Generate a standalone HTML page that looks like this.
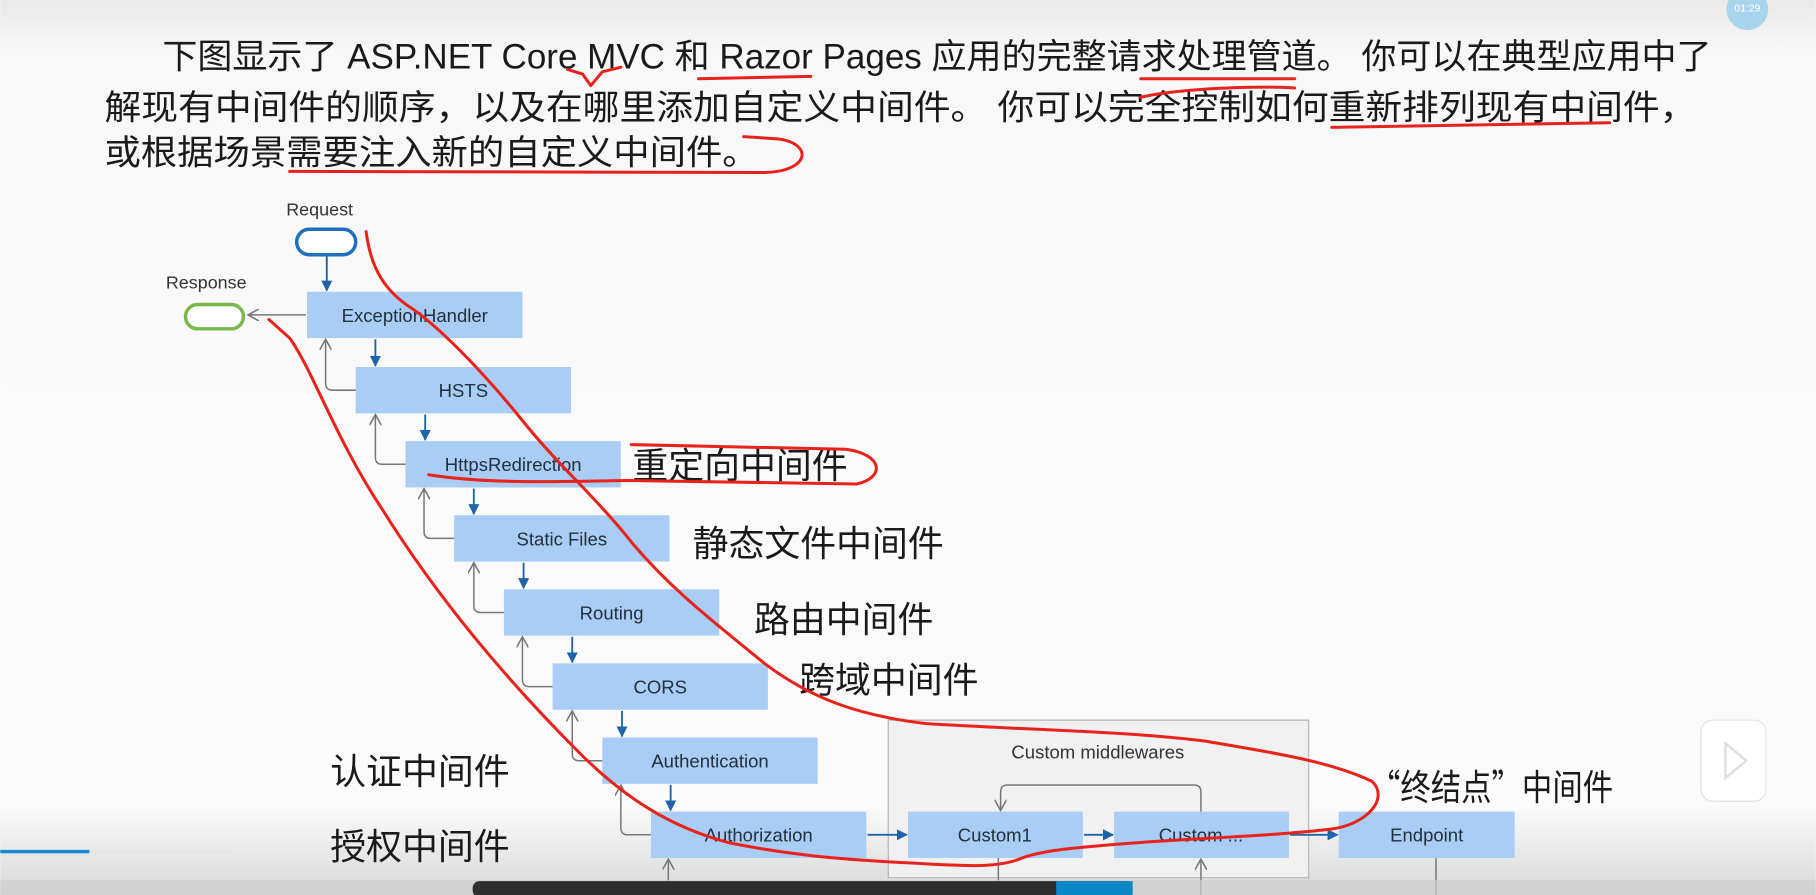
<!DOCTYPE html>
<html><head><meta charset="utf-8"><style>
html,body{margin:0;padding:0;width:1816px;height:895px;overflow:hidden;background:#fafafa}
svg{display:block}
</style></head><body>
<svg width="1816" height="895" viewBox="0 0 1568 773" xmlns="http://www.w3.org/2000/svg">
<defs>
<linearGradient id="bg" x1="0" y1="0" x2="0" y2="1">
<stop offset="0" stop-color="#e9e9e9"/><stop offset="0.06" stop-color="#f8f8f8"/><stop offset="0.9" stop-color="#fbfbfb"/><stop offset="1" stop-color="#d8d8d8"/>
</linearGradient>
<marker id="ab" viewBox="0 0 10 10" refX="9" refY="5" markerWidth="6" markerHeight="6" orient="auto"><path d="M0,0 L10,5 L0,10 z" fill="#1f63a8"/></marker>
<marker id="ag" viewBox="0 0 10 10" refX="9" refY="5" markerWidth="8" markerHeight="8" orient="auto"><path d="M0,0 L9,5 L0,10" fill="none" stroke="#777" stroke-width="1.3"/></marker>
</defs>
<rect width="1568" height="773" fill="url(#bg)"/>
<circle cx="1509" cy="8" r="18" fill="#a8d4ee"/>
<text x="1509" y="10" font-size="9" fill="#fff" text-anchor="middle" font-family="Liberation Sans,sans-serif">01:29</text>

<g font-family="'Liberation Sans','Noto Sans CJK SC',sans-serif" font-size="30" fill="#1a1a1a">
<text x="140" y="59" textLength="1338" lengthAdjust="spacingAndGlyphs">下图显示了 ASP.NET Core MVC 和 Razor Pages 应用的完整请求处理管道。 你可以在典型应用中了</text>
<text x="90" y="103" textLength="1375" lengthAdjust="spacingAndGlyphs">解现有中间件的顺序，以及在哪里添加自定义中间件。 你可以完全控制如何重新排列现有中间件，</text>
<text x="90" y="142" textLength="565" lengthAdjust="spacingAndGlyphs">或根据场景需要注入新的自定义中间件。</text>
</g>

<rect x="767" y="622" width="363" height="136" fill="#f1f1f1" stroke="#bdbdbd" stroke-width="1.2"/>
<text x="948" y="655" font-family="Liberation Sans,sans-serif" font-size="16" fill="#333" text-anchor="middle">Custom middlewares</text>

<rect x="256" y="198" width="51" height="22" rx="11" fill="#fff" stroke="#1f6fbd" stroke-width="3"/>
<rect x="160" y="263" width="50" height="21" rx="10.5" fill="#fff" stroke="#7bb84b" stroke-width="3"/>
<g font-family="Liberation Sans,sans-serif" font-size="15.5" fill="#333">
<text x="247" y="186">Request</text>
<text x="143" y="249">Response</text>
</g>

<g fill="#a9cdf5">
<rect x="265" y="252" width="186" height="40"/>
<rect x="307" y="317" width="186" height="40"/>
<rect x="350" y="381" width="186" height="40"/>
<rect x="392" y="445" width="186" height="40"/>
<rect x="435" y="509" width="186" height="40"/>
<rect x="477" y="573" width="186" height="40"/>
<rect x="520" y="637" width="186" height="40"/>
<rect x="562" y="701" width="186" height="40"/>
<rect x="784" y="701" width="151" height="40"/>
<rect x="962" y="701" width="151" height="40"/>
<rect x="1156" y="701" width="152" height="40"/>
</g>
<g font-family="Liberation Sans,sans-serif" font-size="16" fill="#22303e" text-anchor="middle">
<text x="358" y="278">ExceptionHandler</text>
<text x="400" y="343">HSTS</text>
<text x="443" y="407">HttpsRedirection</text>
<text x="485" y="471">Static Files</text>
<text x="528" y="535">Routing</text>
<text x="570" y="599">CORS</text>
<text x="613" y="663">Authentication</text>
<text x="655" y="727">Authorization</text>
<text x="859" y="727">Custom1</text>
<text x="1037" y="727">Custom ...</text>
<text x="1232" y="727">Endpoint</text>
</g>

<g stroke="#1f63a8" stroke-width="1.6" marker-end="url(#ab)">
<line x1="282" y1="221" x2="282" y2="251"/>
<line x1="324" y1="293" x2="324" y2="316"/>
<line x1="367" y1="358" x2="367" y2="380"/>
<line x1="409" y1="422" x2="409" y2="444"/>
<line x1="452" y1="486" x2="452" y2="508"/>
<line x1="494" y1="550" x2="494" y2="572"/>
<line x1="537" y1="614" x2="537" y2="636"/>
<line x1="579" y1="678" x2="579" y2="700"/>
<line x1="749" y1="721" x2="783" y2="721"/>
<line x1="936" y1="721" x2="961" y2="721"/>
<line x1="1114" y1="721" x2="1155" y2="721"/>
</g>
<g stroke="#777" stroke-width="1.3" fill="none" marker-end="url(#ag)">
<line x1="264" y1="272" x2="214" y2="272"/>
<path d="M307,337 H287 Q281,337 281,331 V293"/>
<path d="M350,401 H330 Q324,401 324,395 V358"/>
<path d="M392,465 H372 Q366,465 366,459 V422"/>
<path d="M435,529 H415 Q409,529 409,523 V486"/>
<path d="M477,593 H457 Q451,593 451,587 V550"/>
<path d="M520,657 H500 Q494,657 494,651 V614"/>
<path d="M562,721 H542 Q536,721 536,715 V678"/>
<path d="M1037,701 V684 Q1037,678 1031,678 H870 Q864,678 864,684 V700"/>
<line x1="577" y1="773" x2="577" y2="742"/>
<line x1="1037" y1="773" x2="1037" y2="742"/>
</g>
<g stroke="#777" stroke-width="1.3">
<line x1="862" y1="741" x2="862" y2="773"/>
<line x1="1240" y1="741" x2="1240" y2="773"/>
</g>

<g font-family="'Noto Sans CJK SC',sans-serif" font-size="31" fill="#1a1a1a">
<text x="546" y="413">重定向中间件</text>
<text x="598" y="480">静态文件中间件</text>
<text x="651" y="546">路由中间件</text>
<text x="690" y="598">跨域中间件</text>
<text x="285" y="677">认证中间件</text>
<text x="285" y="742">授权中间件</text>
<text x="1183" y="691" textLength="210" lengthAdjust="spacingAndGlyphs">“终结点”中间件</text>
</g>

<g stroke="#e8231c" stroke-width="2.6" fill="none" stroke-linecap="round" stroke-linejoin="round">
<path d="M490,60 L503,64 L510,74 L520,62 L536,58"/>
<path d="M603,68 L700,66"/>
<path d="M985,68 L1118,68"/>
<path d="M985,84 C1020,76 1090,74 1118,76"/>
<path d="M1150,110 L1390,106"/>
<path d="M250,148 L660,149 C700,148 702,124 672,120 L642,118"/>
<path d="M370,410 C420,418 480,416 540,415 L740,418 C765,412 762,392 730,388 L545,384"/>
<path d="M316,200 C320,232 332,252 358,268 C385,288 420,325 450,362 C480,400 515,430 545,468 C580,510 620,540 660,573 C700,603 740,618 800,625 C880,630 980,632 1040,640 C1100,650 1150,658 1185,675 C1200,690 1180,712 1150,716 C1100,722 1030,724 980,728 C930,732 900,734 880,742 C860,750 830,748 780,745 C720,742 680,738 630,728 C580,715 540,690 500,650 C440,590 380,520 330,440 C290,380 270,320 250,292 L232,276"/>
</g>

<rect x="1469" y="622" width="56" height="70" rx="10" fill="#fff" stroke="#e2e2e2"/>
<path d="M1490,642 L1508,657 L1490,672 z" fill="none" stroke="#ddd" stroke-width="2"/>

<rect x="0" y="734" width="77" height="3" fill="#1a8ad0"/>
<rect x="77" y="734" width="123" height="3" fill="#e6e6e6"/>

<rect x="0" y="760" width="1568" height="13" fill="#cfcfcf" opacity="0.7"/>
<rect x="408" y="761" width="570" height="14" rx="6" fill="#2e2e2e"/>
<rect x="912" y="761" width="66" height="14" fill="#0b87c8"/>
</svg>
</body></html>
